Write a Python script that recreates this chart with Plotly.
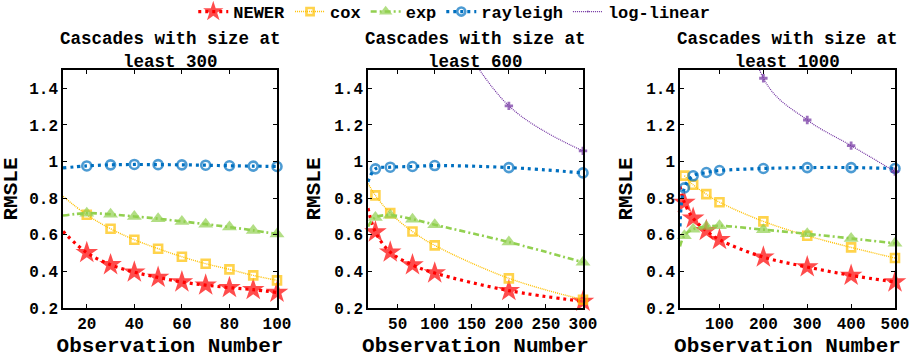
import plotly.graph_objects as go

# ---------------- data ----------------
# x = 10 is the curve's start at the left edge (no marker drawn there)
x_p1 = [10, 20, 30, 40, 50, 60, 70, 80, 90, 100]
newer_p1 = [0.618, 0.502, 0.436, 0.396, 0.367, 0.342, 0.325, 0.311, 0.300, 0.285]
cox_p1 = [0.810, 0.709, 0.633, 0.573, 0.524, 0.480, 0.442, 0.411, 0.378, 0.351]
exp_p1 = [0.705, 0.718, 0.712, 0.700, 0.688, 0.673, 0.658, 0.642, 0.624, 0.604]
rayleigh_p1 = [0.965, 0.976, 0.982, 0.984, 0.983, 0.982, 0.980, 0.977, 0.975, 0.973]

x_p2 = [10, 20, 40, 70, 100, 200, 300]
newer_p2 = [0.745, 0.615, 0.505, 0.435, 0.391, 0.295, 0.236]
cox_p2 = [0.880, 0.815, 0.718, 0.618, 0.542, 0.362, 0.245]
exp_p2 = [0.645, 0.695, 0.707, 0.685, 0.655, 0.560, 0.450]
rayleigh_p2 = [0.890, 0.960, 0.969, 0.973, 0.978, 0.967, 0.938]
loglin_p2 = [None, None, None, None, 1.90, 1.304, 1.058]

x_p3 = [10, 20, 40, 70, 100, 200, 300, 400, 500]
newer_p3 = [0.864, 0.776, 0.690, 0.622, 0.573, 0.478, 0.424, 0.378, 0.342]
cox_p3 = [None, 0.923, 0.873, 0.822, 0.778, 0.673, 0.595, 0.531, 0.473]
exp_p3 = [0.536, 0.595, 0.630, 0.645, 0.649, 0.628, 0.605, 0.580, 0.553]
rayleigh_p3 = [0.645, 0.856, 0.922, 0.940, 0.951, 0.962, 0.967, 0.967, 0.962]
loglin_p3 = [None, None, None, None, 2.90, 1.455, 1.227, 1.087, 0.945]

panel_titles = ["Cascades with size at<br>least 300",
                "Cascades with size at<br>least 600",
                "Cascades with size at<br>least 1000"]
x_ranges = [[10, 100], [10, 300], [10, 500]]
x_ticks = [[20, 40, 60, 80, 100],
           [50, 100, 150, 200, 250, 300],
           [100, 200, 300, 400, 500]]
y_ticks = [0.2, 0.4, 0.6, 0.8, 1.0, 1.2, 1.4]
y_ticktext = ["0.2", "0.4", "0.6", "0.8", "1", "1.2", "1.4"]
y_range = [0.2, 1.5]

series_names = ["NEWER", "cox", "exp", "rayleigh", "log-linear"]
panels = [
    (x_p1, [newer_p1, cox_p1, exp_p1, rayleigh_p1, None]),
    (x_p2, [newer_p2, cox_p2, exp_p2, rayleigh_p2, loglin_p2]),
    (x_p3, [newer_p3, cox_p3, exp_p3, rayleigh_p3, loglin_p3]),
]

# ---------------- styles ----------------
FONT = "Liberation Mono, Courier New, monospace"
styles = {
    "NEWER": dict(color="#FF0000", width=3.2, dash="3px,4px", symbol="star", size=17, lw=0),
    "cox": dict(color="#FFC000", width=1.4, dash="1px,1px", symbol="square-open", size=8, lw=2.6),
    "exp": dict(color="#92D050", width=2.6, dash="6px,3px,2px,3px", symbol="triangle-up", size=13, lw=0),
    "rayleigh": dict(color="#0070C0", width=3.2, dash="3px,4px", symbol="circle-open", size=9, lw=2.6),
    "log-linear": dict(color="#7030A0", width=1.2, dash="1px,1px", symbol="cross", size=7, lw=0),
}

fig = go.Figure()

x_domains = [[63 / 914, 277 / 914], [368 / 914, 583 / 914], [680 / 914, 895 / 914]]
y_domain = [1 - 308 / 358, 1 - 70 / 358]

legend_done = set()
for i, (xs, series) in enumerate(panels):
    ax = "" if i == 0 else str(i + 1)
    for name, ys in zip(series_names, series):
        if ys is None:
            continue
        st = styles[name]
        sizes = [0 if (x < 20 or y is None or y > y_range[1]) else st["size"]
                 for x, y in zip(xs, ys)]
        show = name not in legend_done
        legend_done.add(name)
        fig.add_trace(go.Scatter(
            x=xs, y=ys, name=name, mode="lines+markers",
            xaxis="x" + ax, yaxis="y" + ax,
            line=dict(color=st["color"], width=st["width"], dash=st["dash"], shape="spline"),
            marker=dict(symbol=st["symbol"], size=sizes, color=st["color"],
                        line=dict(color=st["color"], width=st["lw"])),
            connectgaps=False, cliponaxis=False, showlegend=show,
            legendrank=series_names.index(name),
        ))

layout = dict(
    width=914, height=358,
    margin=dict(l=0, r=0, t=0, b=0, autoexpand=False),
    paper_bgcolor="white", plot_bgcolor="white",
    font=dict(family=FONT, size=16, color="black", weight="bold"),
    showlegend=True,
    legend=dict(orientation="h", x=0.497, xanchor="center", y=1 - 12 / 358, yanchor="middle",
                font=dict(family=FONT, size=17, weight="bold"),
                bgcolor="rgba(0,0,0,0)", itemwidth=30, traceorder="normal"),
    annotations=[],
)

for i in range(3):
    ax = "" if i == 0 else str(i + 1)
    layout["xaxis" + ax] = dict(
        domain=x_domains[i], range=x_ranges[i], anchor="y" + ax, automargin=False,
        tickvals=x_ticks[i], ticks="inside", ticklen=4, tickcolor="black",
        showline=True, linecolor="black", linewidth=1.5, mirror="ticks",
        showgrid=False, zeroline=False,
        tickfont=dict(family=FONT, size=16, weight="bold"),
        title=dict(text="Observation Number", standoff=12,
                   font=dict(family=FONT, size=21, weight="bold")),
    )
    layout["yaxis" + ax] = dict(
        domain=y_domain, range=y_range, anchor="x" + ax, automargin=False,
        tickvals=y_ticks, ticktext=y_ticktext, ticks="inside", ticklen=4, tickcolor="black",
        showline=True, linecolor="black", linewidth=1.5, mirror="ticks",
        showgrid=False, zeroline=False,
        tickfont=dict(family=FONT, size=16, weight="bold"),
        title=dict(text="RMSLE", standoff=8,
                   font=dict(family=FONT, size=21, weight="bold")),
    )
    cx = (x_domains[i][0] + x_domains[i][1]) / 2
    layout["annotations"].append(dict(
        text=panel_titles[i], xref="paper", yref="paper", x=cx, y=1 - 74 / 358,
        xanchor="center", yanchor="bottom", showarrow=False,
        font=dict(family=FONT, size=17.5, weight="bold"),
    ))

fig.update_layout(**layout)
fig.write_html("out.html")
